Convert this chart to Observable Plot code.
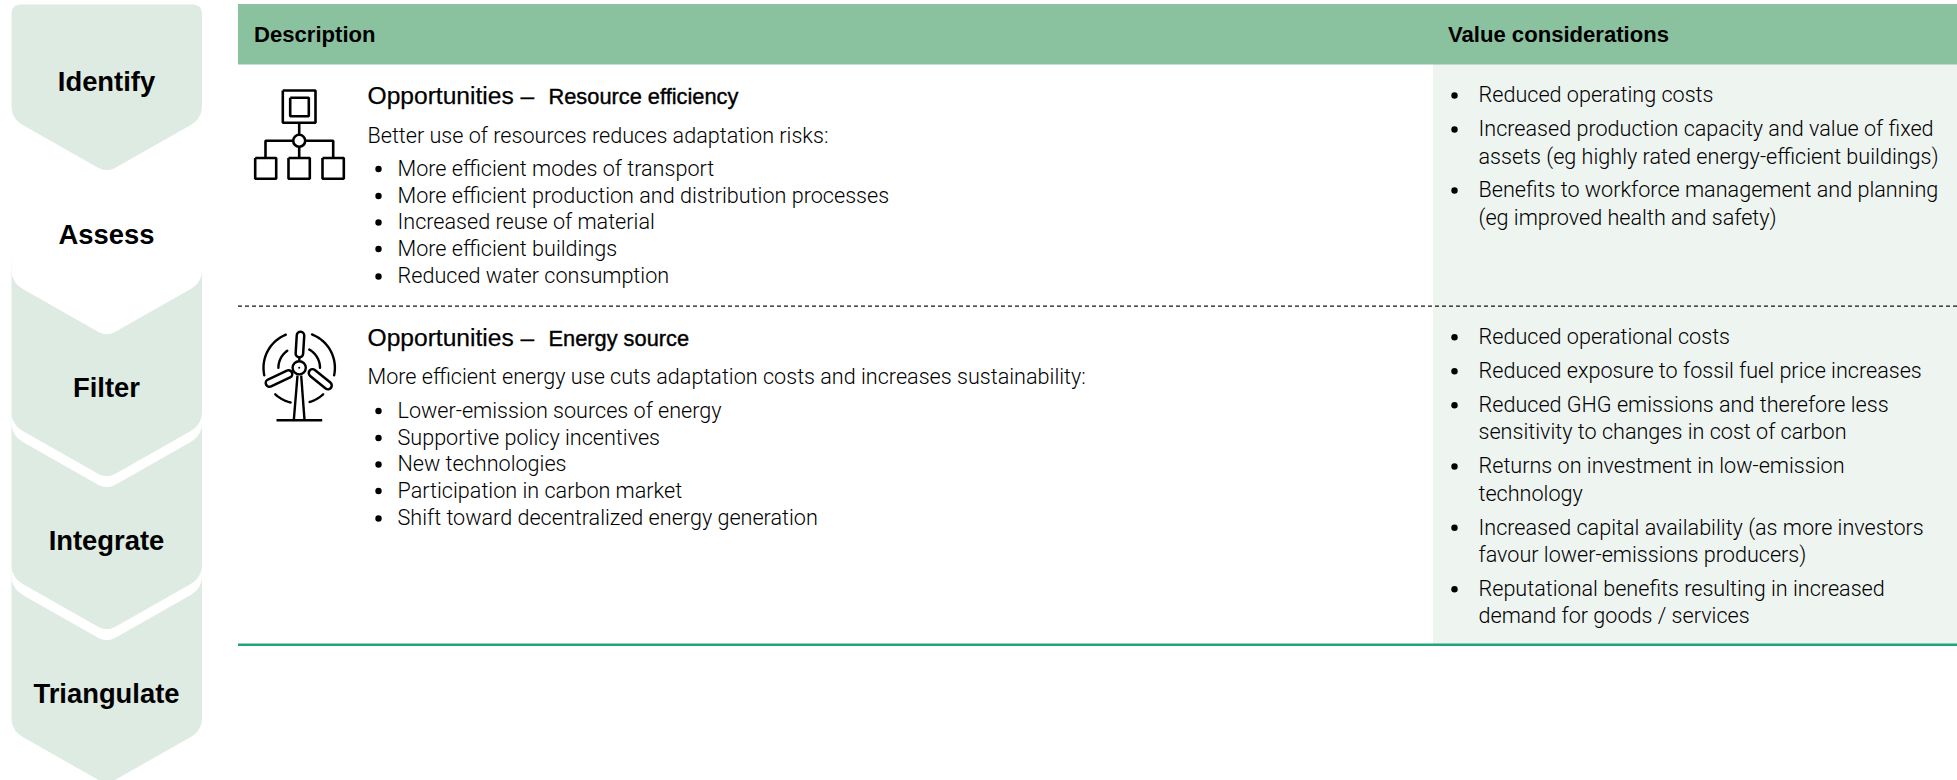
<!DOCTYPE html>
<html><head><meta charset="utf-8">
<script src="https://cdn.jsdelivr.net/npm/d3@7"></script>
<script src="https://cdn.jsdelivr.net/npm/@observablehq/plot@0.6"></script>
<style>html,body{margin:0;padding:0;background:#fff;overflow:hidden}svg{display:block}</style>
</head><body><div id="c"></div><script>
const stages=["Identify","Assess","Filter","Integrate","Triangulate"];
const headers=["Description","Value considerations"];
const titleLead="Opportunities –";
const titleTopics=["Resource efficiency","Energy source"];
const intros=["Better use of resources reduces adaptation risks:","More efficient energy use cuts adaptation costs and increases sustainability:"];
const items1=["More efficient modes of transport","More efficient production and distribution processes","Increased reuse of material","More efficient buildings","Reduced water consumption"];
const items2=["Lower-emission sources of energy","Supportive policy incentives","New technologies","Participation in carbon market","Shift toward decentralized energy generation"];
const values1=[["Reduced operating costs"],["Increased production capacity and value of fixed","assets (eg highly rated energy-efficient buildings)"],["Benefits to workforce management and planning","(eg improved health and safety)"]];
const values2=[["Reduced operational costs"],["Reduced exposure to fossil fuel price increases"],["Reduced GHG emissions and therefore less","sensitivity to changes in cost of carbon"],["Returns on investment in low-emission","technology"],["Increased capital availability (as more investors","favour lower-emissions producers)"],["Reputational benefits resulting in increased","demand for goods / services"]];

// layout
const W=1957,H=780,ink="#141414",TXT="Liberation Sans",BODY="Roboto",FS=21.6;
const stageY=[82,235,388,541,694], period=153;
const items1Y=[168.5,195.5,222,248.5,276], items2Y=[410.5,437.5,464,490.5,518];
const values1Y=[[95],[129,156.5],[190,217.5]];
const values2Y=[[336.7],[370.7],[404.7,432],[466,493.3],[527.3,554.7],[588.7,615.5]];

function rounded(v){
  const out=[],n=v.length;
  for(let i=0;i<n;i++){
    const p=v[(i+n-1)%n],c=v[i],q=v[(i+1)%n],d=c[2];
    const lp=Math.hypot(p[0]-c[0],p[1]-c[1]),lq=Math.hypot(q[0]-c[0],q[1]-c[1]);
    const a=[c[0]+(p[0]-c[0])*d/lp,c[1]+(p[1]-c[1])*d/lp],b=[c[0]+(q[0]-c[0])*d/lq,c[1]+(q[1]-c[1])*d/lq];
    for(let t=0;t<=1.0001;t+=0.1){const u=1-t;out.push([u*u*a[0]+2*u*t*c[0]+t*t*b[0],u*u*a[1]+2*u*t*c[1]+t*t*b[1]]);}
  }
  out.push(out[0]);return out;
}
function chevron(i,shift){
  const o=period*i+shift, top=i===0&&shift===0?4:o+4-60;
  return rounded([[11,top,10],[201.5,top,10],[201.5,118+o,13],[106.25,172.3+o,11],[11,118+o,13]]);
}
const arc=(cx,cy,r,a0,a1)=>d3.range(0,25).map(k=>{const a=(a0+(a1-a0)*k/24)*Math.PI/180;return [cx+r*Math.sin(a),cy-r*Math.cos(a)];});
const box=(x0,y0,x1,y1)=>[[x0,y0],[x1,y0],[x1,y1],[x0,y1],[x0,y0]];
const xy={x:d=>d[0],y:d=>d[1]};
const line=(pts,o={})=>Plot.line(pts,{...xy,stroke:"#000",strokeWidth:2.6,strokeLinecap:"butt",strokeLinejoin:"miter",curve:"linear",...o});

const shapes=[];
for(let i=stages.length-1;i>=0;i--){
  if(i<stages.length-1 && i>0) shapes.push(Plot.line(chevron(i,11),{...xy,fill:"#fff",stroke:"none"}));
  shapes.push(Plot.line(chevron(i,0),{...xy,fill:i===1?"#fff":"#deebe2",stroke:"none"}));
}

const tx=(data,o)=>Plot.text(data,{fontFamily:BODY,fontWeight:300,fontSize:FS,fill:"#000",textAnchor:"start",lineAnchor:"middle",...o});
const flat=(vals,ys)=>vals.flatMap((ls,i)=>ls.map((t,j)=>({t,y:ys[i][j],first:j===0})));
const rightLines=[...flat(values1,values1Y),...flat(values2,values2Y)];
const leftLines=[...items1.map((t,i)=>({t,y:items1Y[i]})),...items2.map((t,i)=>({t,y:items2Y[i]}))];
const hubX=298.7,hubY=367.3;

const marks=[
  ...shapes,
  Plot.rectY([0],{x1:()=>1433,x2:()=>W,y1:()=>64,y2:()=>644,fill:"#eef4f0"}),
  Plot.rectY([0],{x1:()=>238,x2:()=>W,y1:()=>4,y2:()=>64.5,fill:"#8ac2a0"}),
  Plot.ruleY([305.7],{x1:238,x2:W,stroke:ink,strokeWidth:1.3,strokeDasharray:"4 3"}),
  Plot.ruleY([644.3],{x1:238,x2:W,stroke:"#20a478",strokeWidth:2.6}),
  Plot.text(stages,{x:()=>106,y:(d,i)=>stageY[i],text:d=>d,fontFamily:TXT,fontWeight:700,fontSize:27.4,fill:"#000",lineAnchor:"middle"}),
  tx(headers,{x:(d,i)=>[253.5,1447.5][i],y:()=>34.5,text:d=>d,fontFamily:TXT,fontWeight:700,fontSize:22.1}),
  tx(titleTopics,{x:()=>548,y:(d,i)=>[97,339][i],text:d=>d,fontFamily:TXT,fontSize:21.8,fontWeight:400,stroke:"#000",strokeWidth:0.4}),
  tx([titleLead,titleLead],{x:()=>367,y:(d,i)=>[96,338][i],text:d=>d,fontFamily:TXT,fontSize:24.6,fontWeight:400,stroke:"#000",strokeWidth:0.25}),
  tx(intros,{x:()=>367,y:(d,i)=>[136,377][i],text:d=>d}),
  Plot.dot(leftLines,{x:()=>378,y:d=>d.y,r:3.2,fill:"#000"}),
  tx(leftLines,{x:()=>397,y:d=>d.y,text:d=>d.t}),
  Plot.dot(rightLines.filter(d=>d.first),{x:()=>1454,y:d=>d.y,r:3.2,fill:"#000"}),
  tx(rightLines,{x:()=>1478,y:d=>d.y,text:d=>d.t}),
  // org-chart icon
  line(box(282.3,90,315,122.3)),line(box(289.7,97.3,308.3,115.7)),
  line([[298.7,122],[298.7,157]]),line([[265,157],[265,140.3],[332.7,140.3],[332.7,157]]),
  line(box(254.7,157.5,275.7,178.3)),line(box(288,157.5,309.3,178.3)),line(box(322,157.5,343.3,178.3)),
  Plot.dot([0],{x:()=>298.7,y:()=>140.3,r:6,fill:"#fff",stroke:"#000",strokeWidth:2.6}),
  // wind-turbine icon
  ...[[-22,-102,35.7],[21,102,35.7],[-138,-166,35.7],[138,163,35.7],[-35,-90,20.8],[29,90,20.8]].map(([a,b,r])=>line(arc(hubX,hubY,r,a,b),{strokeLinecap:"round",strokeWidth:2.4})),
  line([[276,419.7],[321.7,419.7]],{strokeWidth:2.6}),
  line([[297,375],[293.3,419.7]],{strokeWidth:2.4}),line([[300.7,375],[304,419.7]],{strokeWidth:2.4}),
  line([[298.8,354],[298.8,360]],{strokeWidth:2.4}),
  line([[300,335],[298.9,353]],{strokeWidth:10,strokeLinecap:"round"}),line([[300,335],[298.9,353]],{strokeWidth:5,stroke:"#fff",strokeLinecap:"round"}),
  line([[288,373.5],[269,382.5]],{strokeWidth:10,strokeLinecap:"round"}),line([[288,373.5],[269,382.5]],{strokeWidth:5,stroke:"#fff",strokeLinecap:"round"}),
  line([[312,372.5],[327.5,385]],{strokeWidth:10,strokeLinecap:"round"}),line([[312,372.5],[327.5,385]],{strokeWidth:5,stroke:"#fff",strokeLinecap:"round"}),
  Plot.dot([0],{x:()=>hubX,y:()=>hubY,r:6.6,fill:"#fff",stroke:"#000",strokeWidth:2.4}),
  Plot.dot([0],{x:()=>hubX,y:()=>hubY,r:1,fill:"#000"}),
];
const svg=Plot.plot({width:W,height:H,margin:0,x:{domain:[0,W],range:[0,W],axis:null},y:{domain:[0,H],range:[0,H],axis:null},style:{background:"#fff"},marks});
document.getElementById("c").append(svg);
</script></body></html>
